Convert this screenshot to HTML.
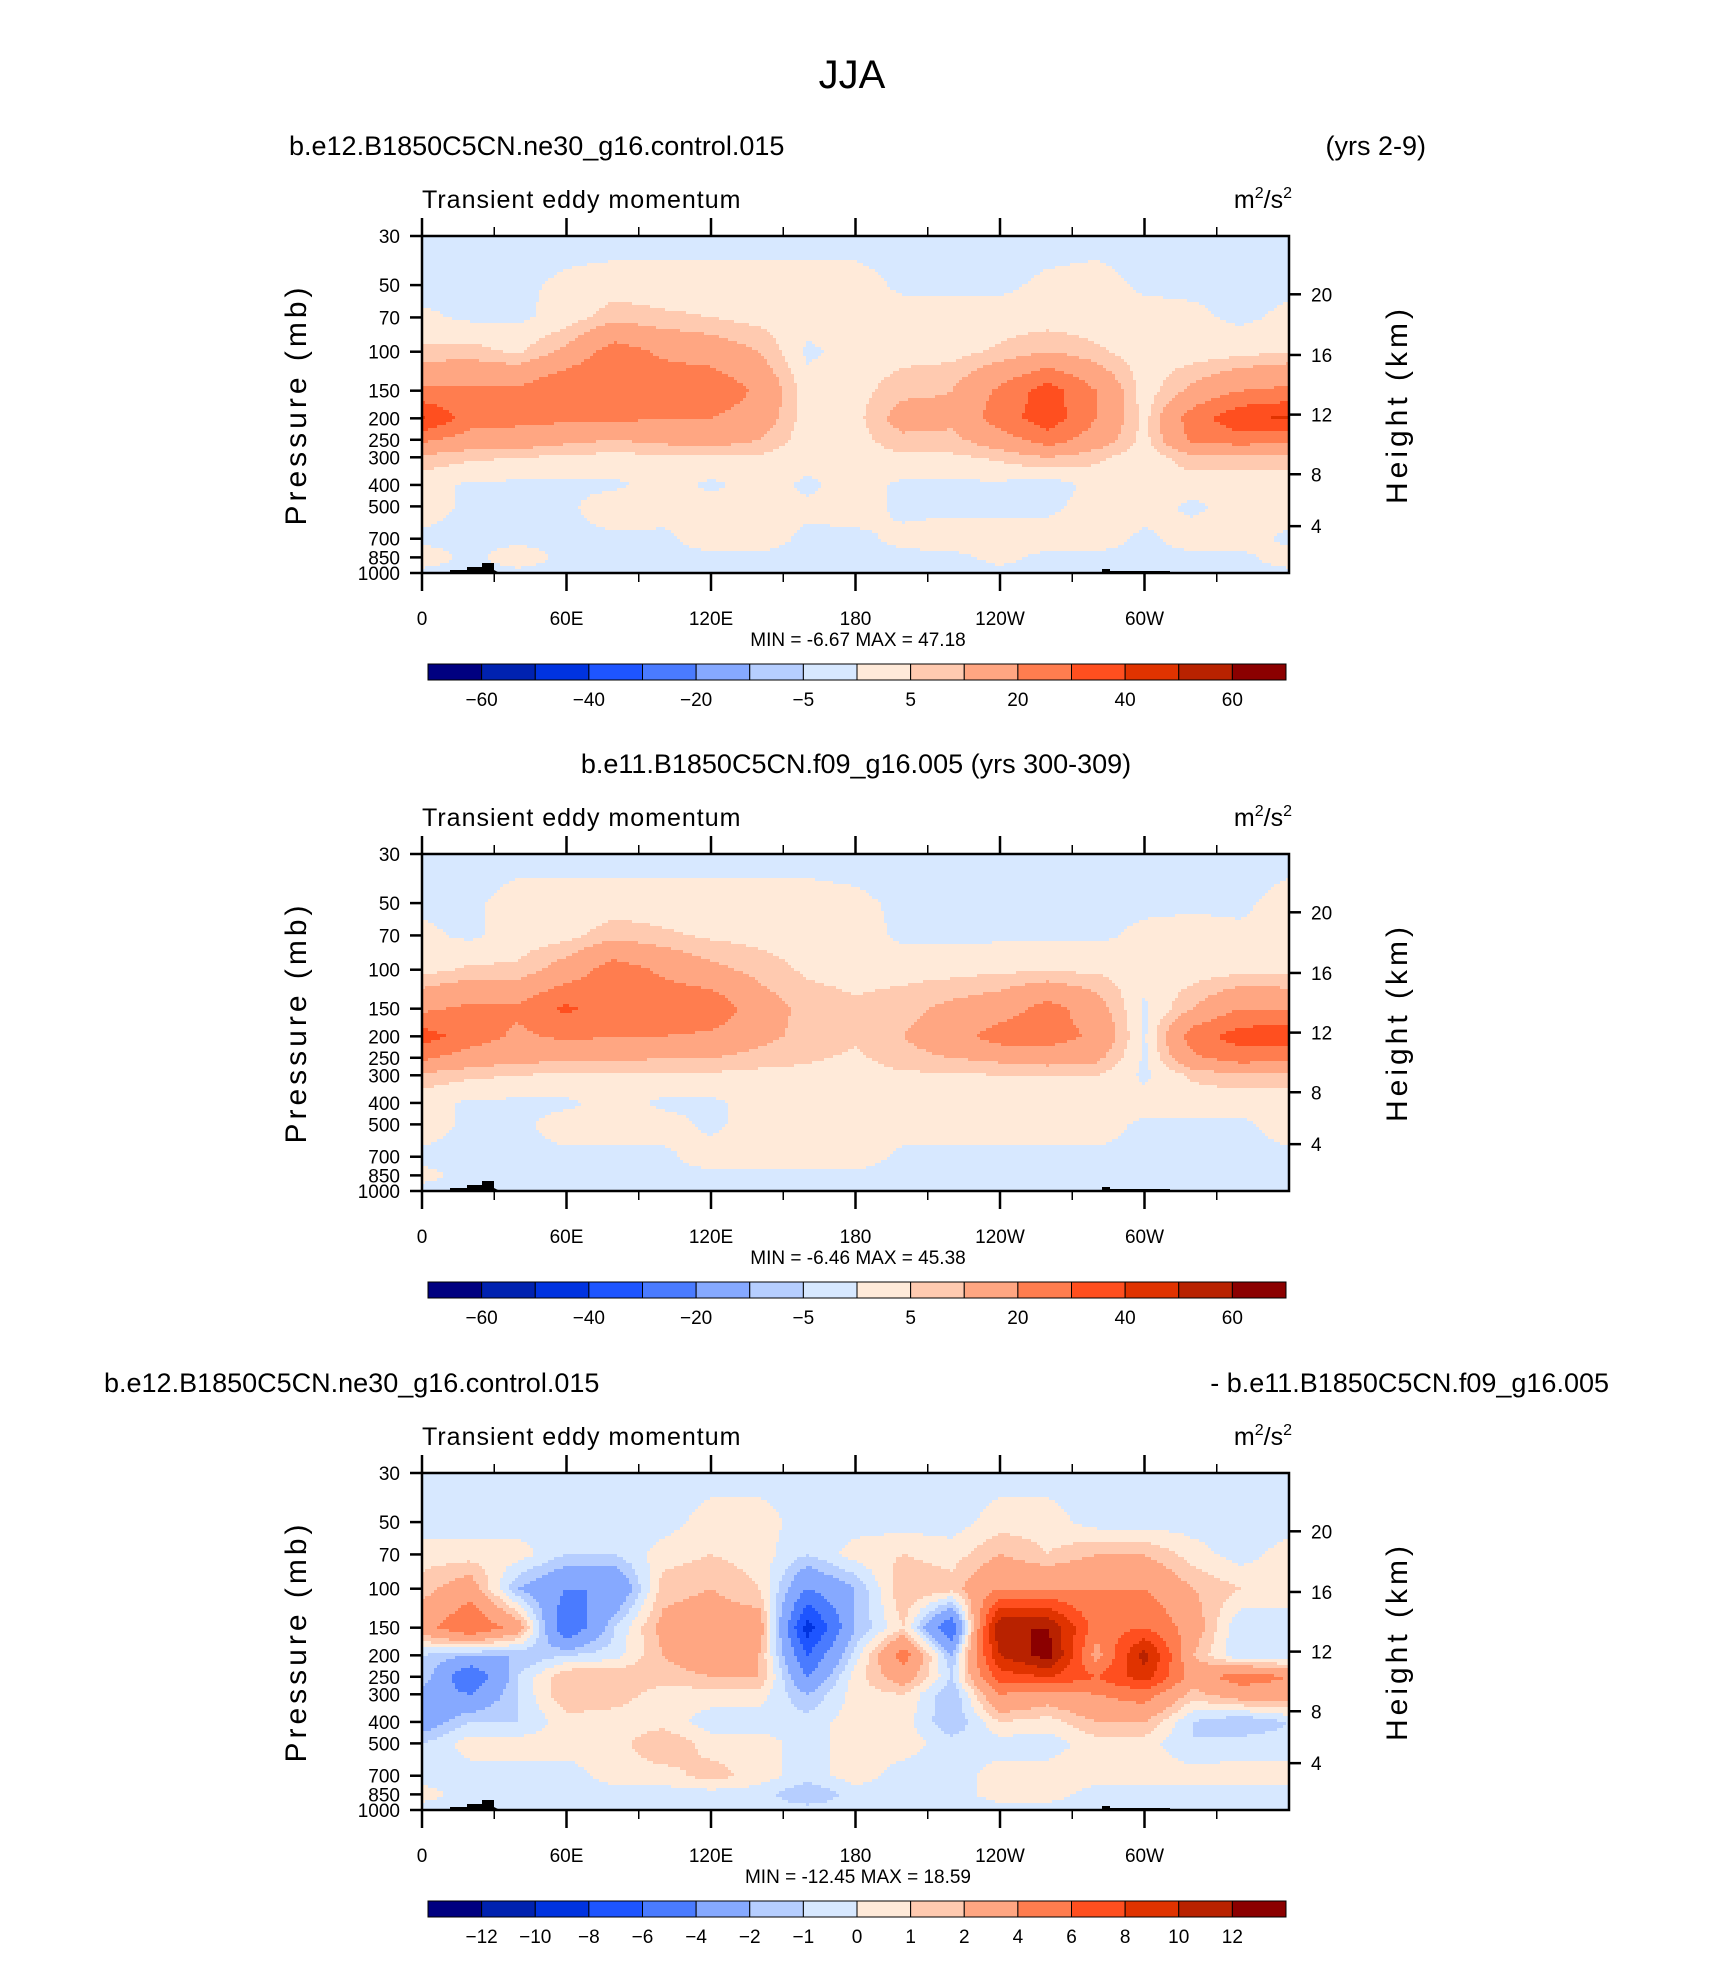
<!DOCTYPE html>
<html><head><meta charset="utf-8">
<style>
html,body{margin:0;padding:0;background:#fff;}
svg{display:block;}
text{font-family:"Liberation Sans",sans-serif;fill:#000;}
</style></head>
<body>
<svg id="fig" width="1710" height="1980" viewBox="0 0 1710 1980" xmlns="http://www.w3.org/2000/svg">
<text x="852" y="88" font-size="40" text-anchor="middle" style="font-weight:300">JJA</text>
</svg>
<script>
// ---- data ----
const lons = [0,20,40,60,80,100,120,140,160,180,200,220,240,260,280,300,320,340,360];
const plevs = [30,50,70,100,150,200,250,300,400,500,700,850,1000];
const pTicks = [30,50,70,100,150,200,250,300,400,500,700,850,1000];
const pTickLabels = ["30","50","70","100","150","200","250","300","400","500","700","850","1000"];
const lonTicks = [0,60,120,180,240,300];
const lonTickLabels = ["0","60E","120E","180","120W","60W"];
const lonMinor = [30,90,150,210,270,330];
const hTickLabels = ["20","16","12","8","4"];
const levelsAbs = [-60,-50,-40,-30,-20,-10,-5,0,5,10,20,30,40,50,60];
const levelsAbsLabels = ["-60","","-40","","-20","","-5","","5","","20","","40","","60"];
const levelsDiff = [-12,-10,-8,-6,-4,-2,-1,0,1,2,4,6,8,10,12];
const levelsDiffLabels = ["-12","-10","-8","-6","-4","-2","-1","0","1","2","4","6","8","10","12"];
const colors = ["#000080","#0022b0","#0033e0","#1e55ff","#4a7bff","#86a9ff","#b6ceff","#d7e8ff","#ffead9","#ffcab0","#ffa682","#ff7d4f","#ff4f1f","#e03300","#b82200","#8b0000"];

const field1 = [
[-2,-2,1,6,22,42,22,8,2,2,-1,2,-1],
[-2,-1,-1,7,22,25,15,6,-1,-1,-1,-1,-1],
[-2,-1,-1,4,22,23,15,5,-1,-1,-1,2,-1],
[-2,1,2,12,30,22,12,4,-1,-1,-1,-1,-1],
[-2,2,8,25,30,22,10,3,-1,3,-1,-1,-1],
[-2,2,6,18,28,20,12,4,2,2,-1,-1,-1],
[-2,2,5,15,28,20,14,4,-1,2,2,-1,-1],
[-2,2,3,10,18,15,10,4,2,2,2,-1,-1],
[-2,2,2,-1,2,2,2,2,-1,1,-1,-1,-1],
[-2,2,2,2,3,3,3,3,2,2,-1,-1,-1],
[-2,-1,2,3,8,14,8,4,-1,-1,1,-1,-1],
[-2,-1,2,3,10,12,8,4,-1,-1,2,-1,-1],
[-2,-1,2,6,22,25,15,6,-1,-1,2,1,-1],
[-2,1,2,10,35,36,25,10,-3,-1,2,-1,-1],
[-2,2,2,6,20,20,15,6,2,2,2,-1,-1],
[-2,-1,2,2,2,3,3,2,2,2,-1,-1,-1],
[-2,-1,1,2,12,25,22,8,2,-1,2,-1,-1],
[-2,-1,-1,3,20,38,25,8,2,2,2,-1,-1],
[-2,-1,1,5,22,42,22,8,2,2,-1,2,-1]
];
const field2 = [
[-2,-1,1,3,18,35,22,8,2,2,-1,1,-1],
[-2,-1,-1,6,22,25,15,6,-1,-1,-1,-1,-1],
[-2,2,2,6,22,18,12,5,-1,-1,-1,-1,-1],
[-2,2,3,14,32,22,12,4,-1,2,-1,-1,-1],
[-2,2,8,25,24,20,12,4,2,2,-1,-1,-1],
[-2,2,6,18,28,20,10,4,-1,2,-1,-1,-1],
[-2,2,4,12,28,18,10,4,-1,-1,2,-1,-1],
[-2,2,3,8,14,12,8,3,2,2,2,-1,-1],
[-2,2,2,4,8,8,6,3,2,2,2,-1,-1],
[-2,1,2,3,6,6,4,2,2,2,2,-1,-1],
[-2,-1,-1,3,8,10,8,4,2,2,-1,-1,-1],
[-2,-1,-1,3,12,15,10,4,2,2,-1,-1,-1],
[-2,-1,-1,4,15,25,12,5,2,2,-1,-1,-1],
[-2,-1,-1,4,24,25,14,5,2,2,-1,-1,-1],
[-2,-1,-1,4,14,18,12,5,2,2,-1,-1,-1],
[-2,-1,1,2,-1,-1,-1,-1,2,-1,-1,-1,-1],
[-2,-1,2,2,10,25,18,6,2,-1,-1,-1,-1],
[-2,-1,1,3,20,35,25,8,2,-1,-1,-1,-1],
[-2,2,2,3,18,38,22,8,2,2,-1,-1,-1]
];
const field3 = [
[-0.5,-0.5,0.5,1.5,3,-1,-1,-3,-3,-1,-0.5,0.5,-0.5],
[-0.5,-0.5,0.5,3,6,-2,-6,-4,-1,0.5,-0.5,-0.5,-0.5],
[-0.5,-0.5,0.5,-2,3,-2,-1,-1,-1,0.5,-0.5,-0.5,-0.5],
[-0.5,-0.5,-1,-4,-6,-1,2,2,0.5,0.5,-0.5,-0.5,-0.5],
[-0.5,-0.5,-1,-4,-1,-0.5,2,1.5,0.5,0.5,0.5,-0.5,-0.5],
[-0.5,-0.5,0.5,1.5,2.5,2,1.5,0.5,0.5,2,0.5,-0.5,-0.5],
[-0.5,0.5,1,2,3,3,2,0.5,-0.5,0.5,1.5,-0.5,-0.5],
[-0.5,0.5,0.5,1,3,2,2,0.5,-0.5,0.5,0.5,-0.5,-0.5],
[-0.5,-0.5,-1,-4,-9,-6,-4,-2,-0.5,-0.5,-0.5,-2,-0.5],
[-0.5,-0.5,0.5,-2,-2,-0.5,0.5,0.5,0.5,0.5,0.5,-0.5,-0.5],
[-0.5,-0.5,1,2,1,5,3,1,0.5,0.5,-0.5,-0.5,-0.5],
[-0.5,-0.5,0.5,1.5,-6,-2,-1,-2,-2,-0.5,-0.5,-0.5,-0.5],
[-0.5,0.5,2,4,12,10,7,4,1,-0.5,0.5,0.5,-0.5],
[-0.5,0.5,1,4,12,13,8,3,0.5,-0.5,0.5,0.5,-0.5],
[-0.5,-0.5,2,4,5,3,6,4,2,0.5,0.5,-0.5,-0.5],
[-0.5,-0.5,2,4,6,11,9,5,2,0.5,0.5,-0.5,-0.5],
[-0.5,-0.5,0.5,2,3,2,3,1.5,-1,-1,0.5,-0.5,-0.5],
[-0.5,-0.5,-0.5,1,-1,-1,5,3,-2,-0.5,0.5,-0.5,-0.5],
[-0.5,-0.5,0.5,1,-1,-1,4,3,-1,-0.5,0.5,-0.5,-0.5]
];
const minmax1 = ["-6.67","47.18"];
const minmax2 = ["-6.46","45.38"];
const minmax3 = ["-12.45","18.59"];

const NS = "http://www.w3.org/2000/svg";
const fig = document.getElementById('fig');
function mk(tag, attrs, parent, txt){
  const e = document.createElementNS(NS, tag);
  for (const k in attrs) e.setAttribute(k, attrs[k]);
  if (txt !== undefined) e.textContent = txt;
  (parent||fig).appendChild(e);
  return e;
}
const L = 422, W = 867, H = 337;
const lp0 = Math.log(30), lp1 = Math.log(1000);
function xScale(lon){ return L + lon/360*W; }
function yFrac(p){ return (Math.log(p)-lp0)/(lp1-lp0); }
function colorIdx(v, lev){ let i=0; for (const b of lev) if (v>=b) i++; return i; }
const rowFr = plevs.map(yFrac);
function sample(field, lon, fr){
  let i = Math.min(lons.length-2, Math.floor(lon/20));
  const tx = (lon - lons[i])/20;
  let j = 0; while (j < rowFr.length-2 && fr > rowFr[j+1]) j++;
  const ty = Math.max(0, Math.min(1,(fr-rowFr[j])/(rowFr[j+1]-rowFr[j])));
  const a = field[i][j], b = field[i+1][j], c = field[i][j+1], d = field[i+1][j+1];
  return (a*(1-tx)+b*tx)*(1-ty) + (c*(1-tx)+d*tx)*ty;
}

function panel(T, field, lev, levLabels, mm, pname){
  const g = mk('g', {}, fig);
  
  
  const cg = mk('g', {}, g);
  
  
  const cw = 3, ch = 3;
  for (let y = 0; y < H; y += ch){
    const fr = (y + ch/2)/H;
    let runStart = 0, runCol = -1;
    for (let x = 0; x <= W; x += cw){
      let ci = -2;
      if (x < W){ const lon = (x + cw/2)/W*360; ci = colorIdx(sample(field, lon, fr), lev); }
      if (ci !== runCol){
        if (runCol >= 0){
          const r = mk('rect', {x: L+runStart, y: T+y, width: Math.min(x,W)-runStart+0.6, height: Math.min(ch+0.6, H-y), fill: colors[runCol]}, cg);
          
          
        }
        runStart = x; runCol = ci;
      }
    }
  }
  const topo = mk('path', {d: `M${L+28} ${T+H} L${L+28} ${T+H-3} L${L+45} ${T+H-3} L${L+45} ${T+H-6} L${L+60} ${T+H-6} L${L+60} ${T+H-10} L${L+72} ${T+H-10} L${L+72} ${T+H-3} L${L+78} ${T+H} Z M${L+680} ${T+H} L${L+680} ${T+H-4} L${L+688} ${T+H-4} L${L+688} ${T+H-2} L${L+748} ${T+H-2} L${L+748} ${T+H} Z`, fill: '#000'}, g);
  
  
  const fr = mk('rect', {x: L, y: T, width: W, height: H, fill: 'none', stroke: '#000', 'stroke-width': 2.5}, g);
  
  
  lonTicks.forEach((lon, k) => {
    const x = xScale(lon);
    mk('line', {x1:x, x2:x, y1:T-18, y2:T, stroke:'#000','stroke-width':2.5}, g);
    mk('line', {x1:x, x2:x, y1:T+H, y2:T+H+18, stroke:'#000','stroke-width':2.5}, g);
    const t = mk('text', {x:x, y:T+H+52, 'font-size':19, 'text-anchor':'middle'}, g, lonTickLabels[k]);
    
    
  });
  lonMinor.forEach(lon => {
    const x = xScale(lon);
    mk('line', {x1:x, x2:x, y1:T-9, y2:T, stroke:'#000','stroke-width':1.5}, g);
    mk('line', {x1:x, x2:x, y1:T+H, y2:T+H+9, stroke:'#000','stroke-width':1.5}, g);
  });
  pTicks.forEach((p, k) => {
    const y = T + yFrac(p)*H;
    mk('line', {x1:L-12, x2:L, y1:y, y2:y, stroke:'#000','stroke-width':2.5}, g);
    const t = mk('text', {x:L-22, y:y+7, 'font-size':19, 'text-anchor':'end'}, g, pTickLabels[k]);
    
    
  });
  const hFr = [0.173,0.353,0.530,0.707,0.861];
  hFr.forEach((f, k) => {
    const y = T + f*H;
    mk('line', {x1:L+W, x2:L+W+12, y1:y, y2:y, stroke:'#000','stroke-width':2.5}, g);
    const t = mk('text', {x:L+W+22, y:y+7, 'font-size':19}, g, hTickLabels[k]);
    
    
  });
  const yl = mk('text', {x:0, y:0, 'font-size':30, 'text-anchor':'middle', 'letter-spacing':'4', transform:`translate(306 ${T+H/2}) rotate(-90)`}, g, 'Pressure (mb)');
  
  
  const yr = mk('text', {x:0, y:0, 'font-size':30, 'text-anchor':'middle', 'letter-spacing':'4', transform:`translate(1407 ${T+H/2}) rotate(-90)`}, g, 'Height (km)');
  
  
  const st = mk('text', {x:L, y:T-28, 'font-size':25, 'letter-spacing':'1'}, g, 'Transient eddy momentum');
  
  
  const un = mk('text', {x:L+W+3, y:T-28, 'font-size':25, 'text-anchor':'end'}, g);
  
  
  un.innerHTML = 'm<tspan dy="-10" font-size="16">2</tspan><tspan dy="10">/s</tspan><tspan dy="-10" font-size="16">2</tspan>';
  const mmT = mk('text', {x:858, y:T+410, 'font-size':19, 'text-anchor':'middle', 'xml:space':'preserve'}, g, `MIN = ${mm[0]}   MAX = ${mm[1]}`);
  
  
  const cb = mk('g', {}, g);
  
  
  const cbL = 428, cbW = 858, cbT = T+428, cbH = 16, bw = cbW/colors.length;
  colors.forEach((c, k) => {
    const r = mk('rect', {x:cbL+k*bw, y:cbT, width:bw, height:cbH, fill:c, stroke:'#000','stroke-width':1}, cb);
    
    
  });
  levLabels.forEach((s, k) => {
    if (!s) return;
    const t = mk('text', {x:cbL+(k+1)*bw, y:cbT+42, 'font-size':19, 'text-anchor':'middle'}, cb, s.replace('-','\u2212'));
    
    
  });
}

panel(236, field1, levelsAbs, levelsAbsLabels, minmax1, 'panel-control');
panel(854, field2, levelsAbs, levelsAbsLabels, minmax2, 'panel-reference');
panel(1473, field3, levelsDiff, levelsDiffLabels, minmax3, 'panel-difference');

function title(x, y, s, anchor, name){
  const t = mk('text', {x:x, y:y, 'font-size':27, 'text-anchor':anchor}, fig, s);
  
  
}
title(289, 155, 'b.e12.B1850C5CN.ne30_g16.control.015', 'start', 'panel1-case-title');
title(1426, 155, '(yrs 2-9)', 'end', 'panel1-years');
title(856, 773, 'b.e11.B1850C5CN.f09_g16.005 (yrs 300-309)', 'middle', 'panel2-case-title');
title(104, 1392, 'b.e12.B1850C5CN.ne30_g16.control.015', 'start', 'panel3-case-title');
title(1609, 1392, '- b.e11.B1850C5CN.f09_g16.005', 'end', 'panel3-minus-title');
</script>
</body></html>
